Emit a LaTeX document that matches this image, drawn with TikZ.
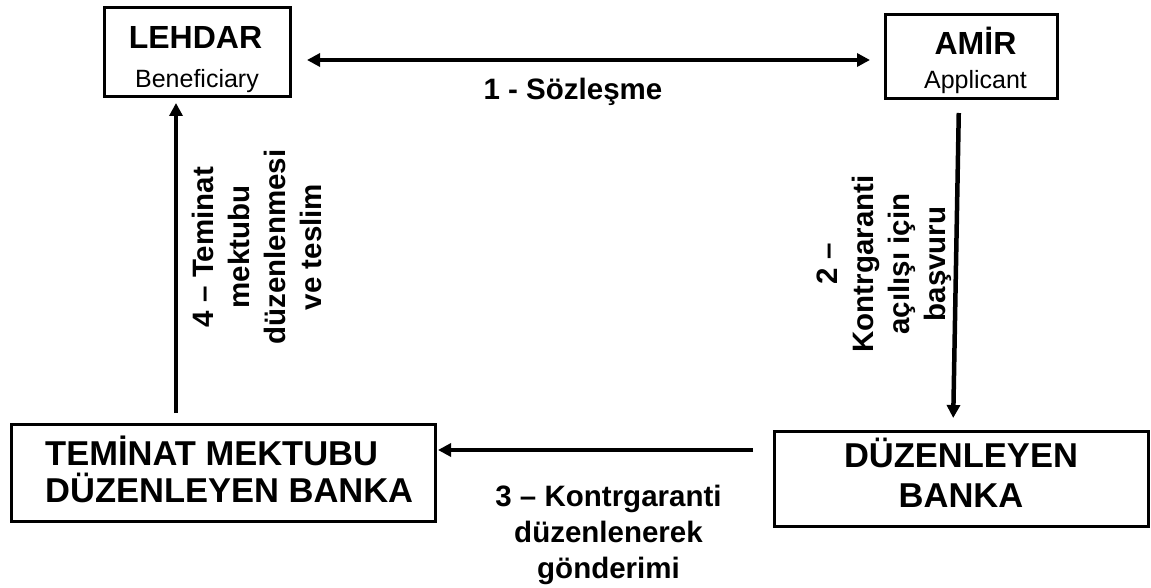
\documentclass[tikz,border=0pt]{standalone}
\usepackage{fontspec}
\setmainfont{Liberation Sans}
\usetikzlibrary{arrows.meta}

\tikzset{
  party/.style={draw=black, line width=3pt, inner sep=0pt},
  headtxt/.style={font=\fontsize{32}{38}\selectfont\bfseries, inner sep=0pt},
  subtxt/.style={font=\fontsize{25}{30}\selectfont, inner sep=0pt},
  banktxt/.style={font=\fontsize{34.5}{40}\selectfont\bfseries, inner sep=0pt},
  steptxt/.style={font=\fontsize{29.5}{36}\selectfont\bfseries, inner sep=0pt, align=center},
  flow/.style={line width=4.5pt, -{Triangle[length=13pt,width=13pt]}},
  twoway/.style={line width=4.5pt, {Triangle[length=13pt,width=13pt]}-{Triangle[length=13pt,width=13pt]}},
}

\begin{document}
\begin{tikzpicture}[x=1pt, y=-1pt]
  \useasboundingbox (0,0) rectangle (1151,588);

  % parties and banks
  \node[party, minimum width=186pt, minimum height=89pt] (lehdar) at (197.5,52) {};
  \node[party, minimum width=172pt, minimum height=84pt] (amir) at (971.5,56.5) {};
  \node[party, minimum width=424pt, minimum height=97pt] (tmbank) at (223.5,473) {};
  \node[party, minimum width=374pt, minimum height=95pt] (dbank) at (961.5,479) {};

  % box texts
  \node[headtxt, anchor=base] (lehdarT) at (195.5,49) {LEHDAR};
  \node[subtxt, anchor=base] (lehdarS) at (197,88) {Beneficiary};
  \node[headtxt, anchor=base] (amirT) at (975.5,55) {AMİR};
  \node[subtxt, anchor=base] (amirS) at (975.5,89) {Applicant};
  \node[banktxt, anchor=base west] (tmT1) at (45,465) {TEMİNAT MEKTUBU};
  \node[banktxt, anchor=base west] (tmT2) at (45,502) {DÜZENLEYEN BANKA};
  \node[banktxt, anchor=base] (dbT1) at (961,467) {DÜZENLEYEN};
  \node[banktxt, anchor=base] (dbT2) at (961,507) {BANKA};

  % connectors
  \draw[twoway, shorten <=15pt, shorten >=14pt]
    ([yshift=-8pt]lehdar.east) -- ([yshift=-3.5pt]amir.west);
  \coordinate (s4) at ([xshift=-47.5pt]tmbank.north);
  \draw[flow, shorten <=10pt, shorten >=5pt] (s4) -- (s4 |- lehdar.south);
  \draw[flow, shorten <=13pt, shorten >=12pt]
    ([xshift=-12.5pt]amir.south) -- ([xshift=-8.5pt]dbank.north);
  \draw[flow, shorten <=20pt, shorten >=1pt]
    ([yshift=29pt]dbank.west) -- ([yshift=23pt]tmbank.east);

  % step labels
  \node[steptxt, anchor=base] (l1) at (573,100) {1 - Sözleşme};
  \node[steptxt, rotate=90] (l2) at (884,264) {2 –\\Kontrgaranti\\açılışı için\\başvuru};
  \node[steptxt] (l3) at (608.5,535) {3 – Kontrgaranti\\düzenlenerek\\gönderimi};
  \node[steptxt, rotate=90] (l4) at (257,247) {4 – Teminat\\mektubu\\düzenlenmesi\\ve teslim};
\end{tikzpicture}
\end{document}
